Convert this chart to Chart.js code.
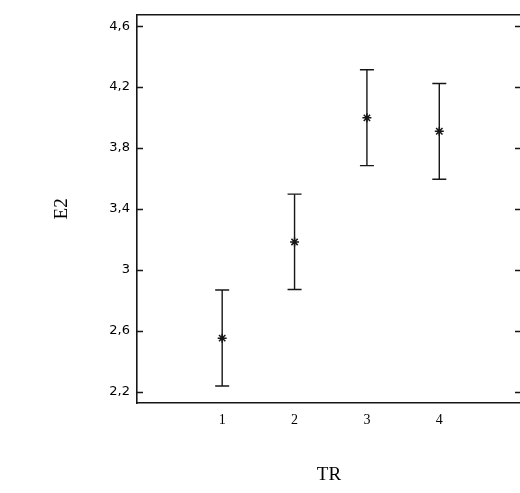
<!DOCTYPE html>
<html>
<head>
<meta charset="utf-8">
<script src="https://cdn.jsdelivr.net/npm/chart.js@4/dist/chart.umd.min.js"></script>
<style>
  html, body { margin: 0; padding: 0; background: #fff; overflow: hidden; }
  #wrap { position: absolute; left: 0; top: 0; width: 530px; height: 493px; }
</style>
</head>
<body>
<div id="wrap"><canvas id="c" width="530" height="493"></canvas></div>
<script>
// Data
const categories = [1, 2, 3, 4];
const means  = [2.551, 3.183, 3.998, 3.910];
const lower  = [2.237, 2.871, 3.684, 3.595];
const upper  = [2.867, 3.497, 4.314, 4.224];
const yTicks = [2.2, 2.6, 3, 3.4, 3.8, 4.2, 4.6];
const xTicks = [1, 2, 3, 4];
const xLabel = 'TR';
const yLabel = 'E2';

const ink = '#161616';

const errorSets = categories.map((c, i) => ({
  type: 'line',
  data: [{x: c, y: lower[i]}, {x: c, y: upper[i]}],
  borderColor: ink,
  borderWidth: 1.4,
  pointStyle: 'line',
  pointRadius: 7,
  pointBorderColor: ink,
  pointBorderWidth: 1.4,
  showLine: true,
  fill: false
}));

const innerTicks = {
  id: 'innerTicks',
  afterDraw(chart) {
    const y = chart.scales.y, a = chart.chartArea, ctx = chart.ctx;
    ctx.save();
    ctx.strokeStyle = ink;
    ctx.lineWidth = 1.3;
    y.ticks.forEach(t => {
      const py = Math.round(y.getPixelForValue(t.value)) + 0.5;
      ctx.beginPath();
      ctx.moveTo(a.left, py); ctx.lineTo(a.left + 6, py);
      ctx.moveTo(a.right, py); ctx.lineTo(a.right - 6, py);
      ctx.stroke();
    });
    ctx.restore();
  }
};

new Chart(document.getElementById('c'), {
  type: 'scatter',
  data: {
    datasets: [
      ...errorSets,
      {
        type: 'scatter',
        data: categories.map((c, i) => ({x: c, y: means[i]})),
        pointStyle: 'star',
        pointRadius: 4.5,
        borderColor: ink,
        backgroundColor: ink,
        borderWidth: 1.5
      }
    ]
  },
  options: {
    responsive: false,
    animation: false,
    devicePixelRatio: 1,
    layout: { padding: { left: 0, right: 9, top: 7, bottom: 0 } },
    plugins: { legend: { display: false }, tooltip: { enabled: false } },
    scales: {
      x: {
        type: 'linear',
        position: 'bottom',
        min: -0.177, max: 5.129,
        afterBuildTicks: s => { s.ticks = xTicks.map(v => ({value: v})); },
        afterFit: s => { s.height = 90; },
        grid: { display: true, drawOnChartArea: false, drawTicks: false },
        border: { display: true, color: ink, width: 1.6 },
        ticks: {
          padding: 9,
          color: '#000',
          font: { family: 'Liberation Serif', size: 14 },
          callback: v => String(v)
        },
        title: {
          display: true, text: xLabel, color: '#000',
          font: { family: 'Liberation Serif', size: 19 },
          padding: { top: 6.6, bottom: 6.6 }
        }
      },
      x2: {
        type: 'linear',
        position: 'top',
        min: -0.177, max: 5.129,
        afterFit: s => { s.height = 0; },
        grid: { display: true, drawOnChartArea: false, drawTicks: false },
        border: { display: true, color: ink, width: 1.6 },
        ticks: { display: false }
      },
      y: {
        type: 'linear',
        position: 'left',
        min: 2.125, max: 4.675,
        afterBuildTicks: s => { s.ticks = yTicks.map(v => ({value: v})); },
        afterFit: s => { s.width = 137; },
        grid: { display: true, drawOnChartArea: false, drawTicks: false },
        border: { display: true, color: ink, width: 1.6 },
        ticks: {
          padding: 7,
          color: '#000',
          font: { family: 'DejaVu Sans', size: 13 },
          callback: v => String(v).replace('.', ',')
        },
        title: {
          display: true, text: yLabel, color: '#000',
          font: { family: 'Liberation Serif', size: 19 },
          padding: { top: 50.6, bottom: 50.6 }
        }
      },
      y2: {
        type: 'linear',
        position: 'right',
        min: 2.125, max: 4.675,
        afterFit: s => { s.width = 0; },
        grid: { display: true, drawOnChartArea: false, drawTicks: false },
        border: { display: true, color: ink, width: 1.6 },
        ticks: { display: false }
      }
    }
  },
  plugins: [innerTicks]
});
</script>
</body>
</html>
